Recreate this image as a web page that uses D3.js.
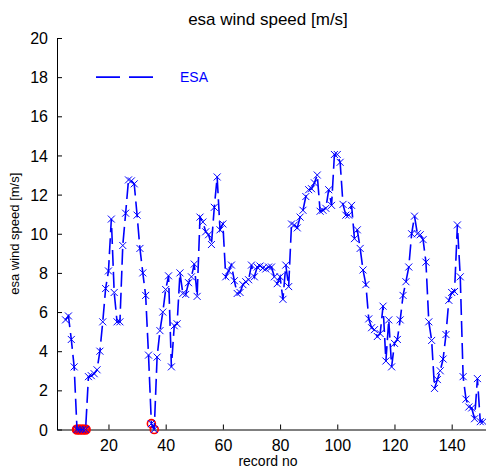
<!DOCTYPE html>
<html>
<head>
<meta charset="utf-8">
<script src="https://cdn.jsdelivr.net/npm/d3@7/dist/d3.min.js"></script>
<style>
  html, body { margin: 0; padding: 0; background: #fff; }
  svg { display: block; font-family: "Liberation Sans", Arial, sans-serif; }
</style>
</head>
<body>
<svg id="chart" width="486" height="468"></svg>
<script>
// ESA wind speed per record number
const records = d3.range(5, 152);
const windSpeed = [
  5.6, 5.8, 4.6, 3.2, 0, 0, 0, 0, 2.7, 2.75,          // 5-14
  2.85, 3.05, 4.0, 5.5, 7.2, 8.1, 10.75, 7.0, 5.5, 5.5, // 15-24
  9.4, 11.05, 12.75, 12.7, 12.55, 10.95, 9.25, 8.0, 6.85, 3.8, // 25-34
  0.3, 0, 3.7, 5.05, 6.0, 7.15, 7.85, 3.2, 5.3, 5.4,   // 35-44
  8.0, 6.95, 6.9, 7.5, 7.8, 8.45, 6.8, 10.85, 10.6, 10.1, // 45-54
  9.95, 9.45, 11.35, 12.9, 10.2, 10.5, 7.8, 8.1, 8.4, 7.6, // 55-64
  6.95, 7.0, 7.4, 7.55, 7.65, 8.4, 7.8, 8.3, 8.35, 8.25, // 65-74
  8.2, 8.3, 8.3, 7.8, 7.45, 7.8, 6.65, 8.4, 7.3, 10.5,  // 75-84
  10.45, 10.3, 10.85, 11.2, 11.9, 12.25, 12.3, 12.6, 13.0, 11.15, // 85-94
  11.2, 11.3, 12.25, 11.45, 14.05, 14.05, 13.65, 11.5, 10.95, 10.95, // 95-104
  11.45, 9.75, 10.2, 9.25, 8.15, 7.4, 5.65, 5.2, 5.1, 4.75, // 105-114
  4.9, 6.3, 3.5, 5.6, 3.2, 4.4, 4.6, 5.6, 6.85, 7.55,  // 115-124
  8.3, 10.0, 10.9, 10.0, 9.95, 9.7, 8.55, 5.5, 4.55, 2.1, // 125-134
  2.55, 3.0, 3.6, 4.85, 6.6, 7.0, 7.05, 10.45, 7.8, 2.7, // 135-144
  1.55, 1.15, 1.1, 0.55, 2.6, 0.4, 0.4                  // 145-151
];
// records flagged as calm / missing
const flagged = [9, 10, 11, 12, 35, 36];
const xTicks = [20, 40, 60, 80, 100, 120, 140];
const yTicks = [0, 2, 4, 6, 8, 10, 12, 14, 16, 18, 20];
const seriesName = "ESA";

const data = records.map((r, i) => ({ r, v: windSpeed[i] }));

const svg = d3.select("#chart");
const x = d3.scaleLinear().domain([2, 152]).range([57, 486]);
const y = d3.scaleLinear().domain([0, 20]).range([429.5, 38]);

const blue = "#0000ff";

// axes (ticks pointing inward, no box)
const xAxis = d3.axisBottom(x).tickValues(xTicks).tickSizeInner(-5).tickSizeOuter(0).tickPadding(10);
const yAxis = d3.axisLeft(y).tickValues(yTicks).tickSizeInner(-5).tickSizeOuter(0).tickPadding(9);

const gx = svg.append("g").attr("transform", `translate(0,${y(0)})`).call(xAxis);
const gy = svg.append("g").attr("transform", `translate(${x(2)},0)`).call(yAxis);
[gx, gy].forEach(g => {
  g.select(".domain").attr("stroke", "#000").attr("stroke-width", 1);
  g.selectAll(".tick line").attr("stroke", "#000");
  g.selectAll(".tick text").attr("fill", "#000").attr("font-size", 16)
    .attr("font-family", "Liberation Sans, Arial, sans-serif");
});
gy.selectAll(".tick text").attr("dy", "0.35em");

// flagged points
svg.append("g").selectAll("circle")
  .data(data.filter(d => flagged.includes(d.r)))
  .join("circle")
  .attr("cx", d => x(d.r)).attr("cy", d => y(d.v)).attr("r", 4)
  .attr("fill", "none").attr("stroke", "#ff0000")
  .attr("stroke-width", d => d.r < 20 ? 2.6 : 1.6);

// dashed series line
const line = d3.line().x(d => x(d.r)).y(d => y(d.v));
svg.append("path").datum(data)
  .attr("d", line).attr("fill", "none")
  .attr("stroke", blue).attr("stroke-width", 1.6)
  .attr("stroke-dasharray", "16,6");

// x markers
const m = 3.5;
svg.append("g").selectAll("path")
  .data(data).join("path")
  .attr("d", d => {
    const cx = x(d.r), cy = y(d.v);
    return `M${cx - m},${cy - m}L${cx + m},${cy + m}M${cx - m},${cy + m}L${cx + m},${cy - m}`;
  })
  .attr("stroke", blue).attr("stroke-width", 1).attr("fill", "none");

// legend
svg.append("line")
  .attr("x1", 96).attr("x2", 153).attr("y1", y(18)).attr("y2", y(18))
  .attr("stroke", blue).attr("stroke-width", 1.6).attr("stroke-dasharray", "24,9");
svg.append("text").attr("x", 180).attr("y", y(18)).attr("dy", "0.35em")
  .attr("fill", blue).attr("font-size", 14).text(seriesName);

// title and axis labels
svg.append("text").attr("x", 268).attr("y", 25).attr("text-anchor", "middle")
  .attr("font-size", 17).attr("fill", "#000").text("esa wind speed [m/s]");
svg.append("text").attr("x", 268).attr("y", 466).attr("text-anchor", "middle")
  .attr("font-size", 14).attr("fill", "#000").text("record no");
svg.append("text").attr("transform", `translate(19,${y(10)}) rotate(-90)`)
  .attr("text-anchor", "middle").attr("font-size", 13).attr("fill", "#000")
  .text("esa wind speed [m/s]");
</script>
</body>
</html>
